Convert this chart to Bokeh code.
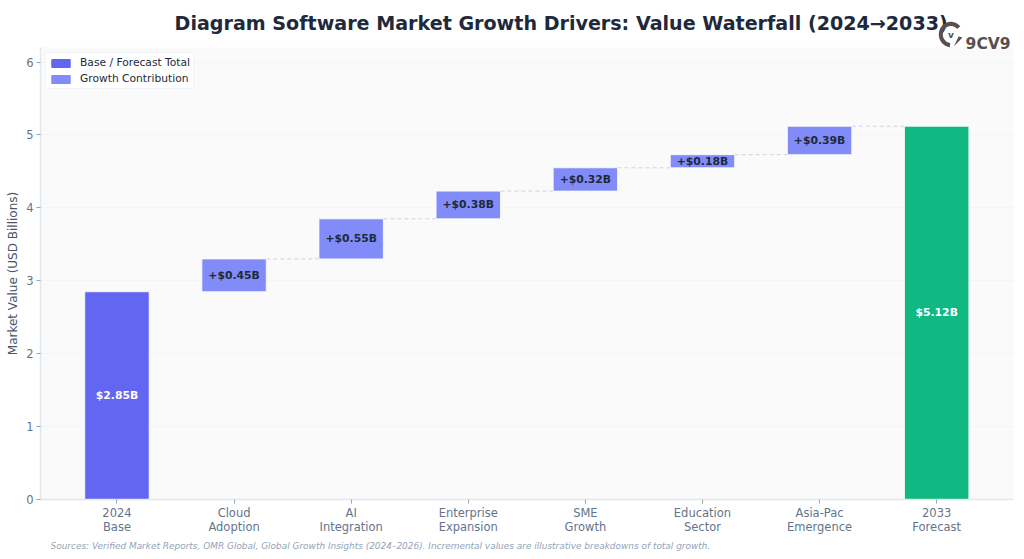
from bokeh.plotting import figure
from bokeh.layouts import column
from bokeh.models import (ColumnDataSource, Range1d, FixedTicker, LabelSet, Legend, LegendItem, Title)
from bokeh.core.properties import value
from bokeh.embed import file_html
from bokeh.resources import INLINE
import numpy as np

chart_title = "Diagram Software Market Growth Drivers: Value Waterfall (2024\u21922033)"
categories = ["2024\nBase", "Cloud\nAdoption", "AI\nIntegration", "Enterprise\nExpansion",
              "SME\nGrowth", "Education\nSector", "Asia-Pac\nEmergence", "2033\nForecast"]
base_value = 2.85
increments = [0.45, 0.55, 0.38, 0.32, 0.18, 0.39]
forecast_value = 5.12
y_ticks = [0, 1, 2, 3, 4, 5, 6]

BAR = 0.55
FONT = "DejaVu Sans"

cum = np.cumsum([base_value] + increments)
idx = np.arange(len(categories))

p = figure(frame_width=973, frame_height=452, output_backend="svg", toolbar_location=None,
           x_range=Range1d(-0.653, 7.656), y_range=Range1d(0, 6.2),
           background_fill_color="#fafafa", border_fill_color="white",
           min_border_left=40, min_border_right=3, min_border_top=47, min_border_bottom=0,
           outline_line_color=None, margin=0)

p.add_layout(Title(text="Sources: Verified Market Reports, OMR Global, Global Growth Insights (2024\u20132026). Incremental values are illustrative breakdowns of total growth.",
                   text_font=FONT, text_font_size="8.95px", text_font_style="italic",
                   text_color="#94a3b8", align="left", offset=10, standoff=2), "below")

p.xaxis.ticker = FixedTicker(ticks=list(idx))
p.xaxis.major_label_overrides = {int(i): c for i, c in zip(idx, categories)}
p.yaxis.ticker = FixedTicker(ticks=y_ticks)
for ax in (p.xaxis[0], p.yaxis[0]):
    ax.axis_line_color = "#e2e8f0"
    ax.axis_line_width = 1.5
    ax.major_tick_line_color = "#94a3b8"
    ax.major_tick_out = 4
    ax.major_tick_in = 0
    ax.minor_tick_line_color = None
    ax.major_label_text_color = "#64748b"
    ax.major_label_text_font = FONT
    ax.major_label_text_font_size = "11.5px"
    ax.major_label_text_line_height = 1.05
p.yaxis.axis_label = "Market Value (USD Billions)"
p.yaxis.axis_label_text_font = FONT
p.yaxis.axis_label_text_font_size = "12px"
p.yaxis.axis_label_text_font_style = "normal"
p.yaxis.axis_label_text_color = "#475569"
p.yaxis.axis_label_standoff = 3
p.yaxis.major_label_standoff = 3
p.xaxis.major_label_standoff = 2

p.xgrid.grid_line_color = None
p.ygrid.grid_line_color = "#f1f5f9"
p.ygrid.ticker = FixedTicker(ticks=y_ticks)

total_src = ColumnDataSource(dict(x=[0, 7], bottom=[0, 0], top=[base_value, forecast_value],
                                  color=["#6366f1", "#10b981"],
                                  label=[f"${base_value:.2f}B", f"${forecast_value:.2f}B"],
                                  mid=[base_value / 2, forecast_value / 2]))
inc_src = ColumnDataSource(dict(x=idx[1:7], bottom=cum[:-1], top=cum[1:],
                                mid=(cum[:-1] + cum[1:]) / 2,
                                label=[f"+${v:.2f}B" for v in increments]))

# connectors between adjacent growth bars, at the running total
levels = list(cum[1:])
conn_src = ColumnDataSource(dict(x0=idx[1:7] + BAR / 2, x1=idx[2:8] - BAR / 2, y0=levels, y1=levels))
conn = p.segment("x0", "y0", "x1", "y1", source=conn_src, line_color="#cbd5e1", line_width=1)
conn.glyph.line_dash = [4, 3]

r_total = p.vbar(x="x", bottom="bottom", top="top", width=BAR, source=total_src,
                 fill_color="color", line_color="white", line_width=0.8)
r_inc = p.vbar(x="x", bottom="bottom", top="top", width=BAR, source=inc_src,
               fill_color="#818cf8", line_color="white", line_width=0.8)

p.add_layout(LabelSet(x="x", y="mid", text="label", source=total_src, text_color="white",
                      text_font=value(FONT), text_font_size="10.8px", text_font_style="bold",
                      text_align="center", text_baseline="middle"))
p.add_layout(LabelSet(x="x", y="mid", text="label", source=inc_src, text_color="#1e293b",
                      text_font=value(FONT), text_font_size="10.8px", text_font_style="bold",
                      text_align="center", text_baseline="middle"))

# legend swatches
swatch = p.vbar(x=[0], bottom=[0], top=[0], width=0, fill_color="#6366f1", line_color="#6366f1")
swatch2 = p.vbar(x=[0], bottom=[0], top=[0], width=0, fill_color="#818cf8", line_color="#818cf8")
legend = Legend(items=[LegendItem(label="Base / Forecast Total", renderers=[swatch]),
                       LegendItem(label="Growth Contribution", renderers=[swatch2])],
                location="top_left", margin=5, padding=3, spacing=3,
                label_text_font=FONT, label_text_font_size="10.7px", label_text_color="#1e293b",
                label_height=13, glyph_height=10, glyph_width=23,
                border_line_color="#e2e8f0", background_fill_color="white",
                background_fill_alpha=0.9, label_standoff=8)
p.add_layout(legend)

# header strip: transparent, same width as the chart, laid over its top; holds title and logo
LOGO = "#5a4f4c"
logo = figure(width=1016, height=60, output_backend="svg", toolbar_location=None,
              x_range=Range1d(0, 1016), y_range=Range1d(76, 16),
              min_border=0, outline_line_color=None, border_fill_color=None,
              background_fill_color=None, margin=(-540, 0, 0, 0))
logo.axis.visible = False
logo.grid.visible = False
logo.text([140], [28], text=[chart_title], text_font=value(FONT), text_font_size="19.1px",
          text_font_style="bold", text_color="#1e293b", text_align="left", text_baseline="middle")
cx, cy, r0, r1 = 950.7, 39, 8.5, 12.7
th = np.radians(np.linspace(40, 265, 50))
logo.patch(np.r_[cx + r1 * np.cos(th), cx + r0 * np.cos(th[::-1])],
           np.r_[cy - r1 * np.sin(th), cy - r0 * np.sin(th[::-1])], color=LOGO, line_width=0)
logo.patch([cx + 3, cx + 12, cx + 8, cx + 5], [cy + 12, cy + 3, cy + 2, cy + 8], color=LOGO, line_width=0)
logo.text([cx], [cy], text=["v"], text_font=value(FONT), text_font_size="9px", text_font_style="bold",
          text_color=LOGO, text_align="center", text_baseline="middle")
logo.text([966], [48], text=["9CV9"], text_font=value(FONT), text_font_size="15.5px", text_font_style="bold",
          text_color=LOGO, text_align="left", text_baseline="alphabetic")

open("out.html", "w").write(file_html(column(p, logo, spacing=0, margin=0), INLINE))
